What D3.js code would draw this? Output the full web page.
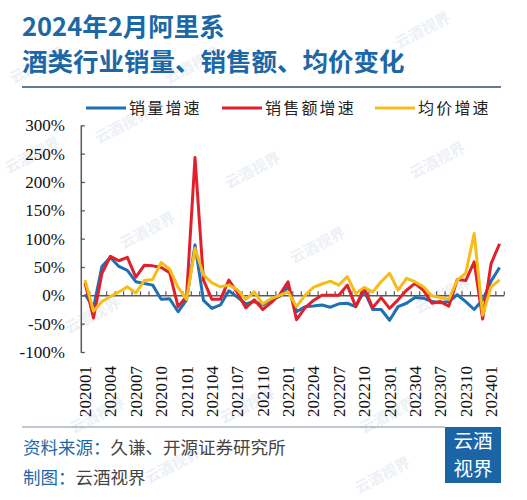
<!DOCTYPE html>
<html>
<head>
<meta charset="utf-8">
<script src="https://cdn.jsdelivr.net/npm/d3@7"></script>
<style>
  body { margin: 0; background: #fff; }
  text { font-family: "Noto Sans CJK SC", "Noto Sans", sans-serif; }
</style>
</head>
<body>
<div id="mainDiv"></div>
<script>
// months 202001 - 202402
const months = [
  "202001","202002","202003","202004","202005","202006","202007","202008","202009","202010","202011","202012",
  "202101","202102","202103","202104","202105","202106","202107","202108","202109","202110","202111","202112",
  "202201","202202","202203","202204","202205","202206","202207","202208","202209","202210","202211","202212",
  "202301","202302","202303","202304","202305","202306","202307","202308","202309","202310","202311","202312",
  "202401","202402"
];

// 销量增速 (%)
const volume = [
  2, -22, 51, 67, 51, 44, 24, 21, 18, -7, -6, -29,
  -8, 89, -9, -23, -17, 8, -3, -15, -11, -17, -8, -2,
  15, -29, -20, -19, -17, -21, -15, -14, -20, 8, -25, -25,
  -44, -20, -14, -4, -5, -11, -13, -11, 1, -11, -25, -8,
  25, 49
];

// 销售额增速 (%)
const sales = [
  22, -40, 39, 69, 61, 67, 32, 53, 52, 49, 40, -20,
  -2, 243, 27, -7, -7, 27, 5, -22, -8, -25, -13, 1,
  24, -43, -22, -9, 0, 0, 0, 18, -20, 13, -22, -4,
  -23, -8, 9, 21, 9, -14, -11, -19, 28, 26, 59, -42,
  56, 91
];

// 均价增速 (%)
const price = [
  27, -28, -11, -2, 6, 15, 4, 26, 28, 58, 46, 14,
  -7, 83, 36, 22, 15, 18, 10, -7, 6, -15, -6, 0,
  6, -20, 0, 14, 20, 25, 18, 33, 3, 14, 6, 24,
  39, 9, 30, 24, 15, -1, -4, -7, 27, 39, 109, -35,
  15, 27
];

const yTicks = [-100, -50, 0, 50, 100, 150, 200, 250, 300];
const xLabels = months.filter((m, i) => i % 3 === 0);

const seriesNames = ["销量增速", "销售额增速", "均价增速"];
const seriesColors = ["#1f6fb4", "#e0202a", "#f5bd18"];
const series = [volume, sales, price];

const width = 527, height = 500;
const plot = { left: 80.8, right: 503.8, top: 125.3, bottom: 352 };
const blue = "#1c67a6";

let svg = d3.select("#mainDiv").append("svg")
  .attr("width", width)
  .attr("height", height)
  .style("background", "#fff");

// faint watermarks
const marks = [[125, 130], [255, 175], [150, 235], [40, 70], [195, 70], [425, 35], [440, 165],
               [320, 250], [445, 300], [95, 320], [250, 410], [100, 420], [390, 420], [35, 160], [175, 470], [385, 480]];
svg.selectAll(".wm")
  .data(marks)
  .enter().append("text")
    .attr("class", "wm")
    .attr("transform", d => "translate(" + d[0] + "," + d[1] + ") rotate(-28)")
    .attr("text-anchor", "middle")
    .style("font-size", "15px")
    .style("font-weight", "bold")
    .style("fill", "#edf1f6")
    .text("云酒视界");

// title
svg.append("text")
  .attr("x", 22).attr("y", 36)
  .style("font-size", "25.5px").style("font-weight", "bold").style("fill", blue)
  .text("2024年2月阿里系");
svg.append("text")
  .attr("x", 22).attr("y", 71)
  .style("font-size", "25.5px").style("font-weight", "bold").style("fill", blue)
  .text("酒类行业销量、销售额、均价变化");

svg.append("line")
  .attr("x1", 22).attr("x2", 501).attr("y1", 87).attr("y2", 87)
  .style("stroke", "#2a4f73").style("stroke-width", 1.5);

// scales
let x = d3.scaleBand().domain(months).range([plot.left, plot.right]);
let xc = m => x(m) + x.bandwidth() / 2;
let xEdge = d3.scaleLinear().domain([0, months.length]).range([plot.left, plot.right]);
let y = d3.scaleLinear().domain([-100, 300]).range([plot.bottom, plot.top]);

// y axis
let yAxis = svg.append("g")
  .attr("transform", "translate(" + plot.left + ",0)")
  .call(d3.axisLeft(y).tickValues(yTicks).tickSizeInner(-4).tickSizeOuter(0).tickPadding(16)
    .tickFormat(d => d + "%"));
yAxis.select(".domain").style("stroke", "#595959").style("stroke-width", 1.5);
yAxis.selectAll(".tick line").style("stroke", "#595959").style("stroke-width", 1.3);
yAxis.selectAll(".tick text")
  .style("font-family", "'Liberation Serif', serif").style("font-size", "17px").style("fill", "#111");

// zero line with category boundary ticks
let xAxis = svg.append("g")
  .attr("transform", "translate(0," + y(0) + ")")
  .call(d3.axisTop(xEdge).tickValues(d3.range(0, months.length + 1)).tickSizeInner(4).tickSizeOuter(0).tickFormat(""));
xAxis.select(".domain").style("stroke", "#595959").style("stroke-width", 1.5);
xAxis.selectAll(".tick line").style("stroke", "#595959").style("stroke-width", 1.2);

// rotated category labels
svg.selectAll(".xlab")
  .data(xLabels)
  .enter().append("text")
    .attr("class", "xlab")
    .attr("transform", d => "translate(" + xc(d) + ",366) rotate(-90)")
    .attr("text-anchor", "end")
    .attr("dy", "0.35em")
    .style("font-family", "'Liberation Serif', serif")
    .style("font-size", "17px")
    .style("fill", "#111")
    .text(d => d);

// lines
let line = d3.line()
  .x((d, i) => xc(months[i]))
  .y(d => y(d));

svg.selectAll(".series")
  .data(series)
  .enter().append("path")
    .attr("class", "series")
    .attr("d", d => line(d))
    .style("fill", "none")
    .style("stroke", (d, i) => seriesColors[i])
    .style("stroke-width", 3)
    .style("stroke-linejoin", "round");

// legend
const legendX = [86, 222, 375];
let legend = svg.selectAll(".legend")
  .data(seriesNames)
  .enter().append("g")
    .attr("class", "legend")
    .attr("transform", (d, i) => "translate(" + legendX[i] + ",108)");
legend.append("line")
  .attr("x1", 0).attr("x2", 40).attr("y1", 0).attr("y2", 0)
  .style("stroke", (d, i) => seriesColors[i]).style("stroke-width", 3);
legend.append("text")
  .attr("x", 43).attr("dy", "0.36em")
  .style("font-size", "16px").style("letter-spacing", "2.2px").style("fill", "#222")
  .text(d => d);

// footer
svg.append("line")
  .attr("x1", 22).attr("x2", 445).attr("y1", 427).attr("y2", 427)
  .style("stroke", "#7f93a8").style("stroke-width", 1);

let src = svg.append("text").attr("x", 23).attr("y", 454).style("font-size", "17.5px");
src.append("tspan").style("fill", blue).text("资料来源：");
src.append("tspan").style("fill", "#444").text("久谦、开源证券研究所");

let made = svg.append("text").attr("x", 23).attr("y", 484).style("font-size", "17.5px");
made.append("tspan").style("fill", blue).text("制图：");
made.append("tspan").style("fill", "#444").text("云酒视界");

// logo
svg.append("rect")
  .attr("x", 445).attr("y", 427).attr("width", 56).attr("height", 56)
  .style("fill", "#1b65a6");
svg.append("text")
  .attr("x", 473).attr("y", 448).attr("text-anchor", "middle")
  .style("font-size", "19.5px").style("fill", "#fff")
  .text("云酒");
svg.append("text")
  .attr("x", 473).attr("y", 476).attr("text-anchor", "middle")
  .style("font-size", "19.5px").style("fill", "#fff")
  .text("视界");
</script>
</body>
</html>
